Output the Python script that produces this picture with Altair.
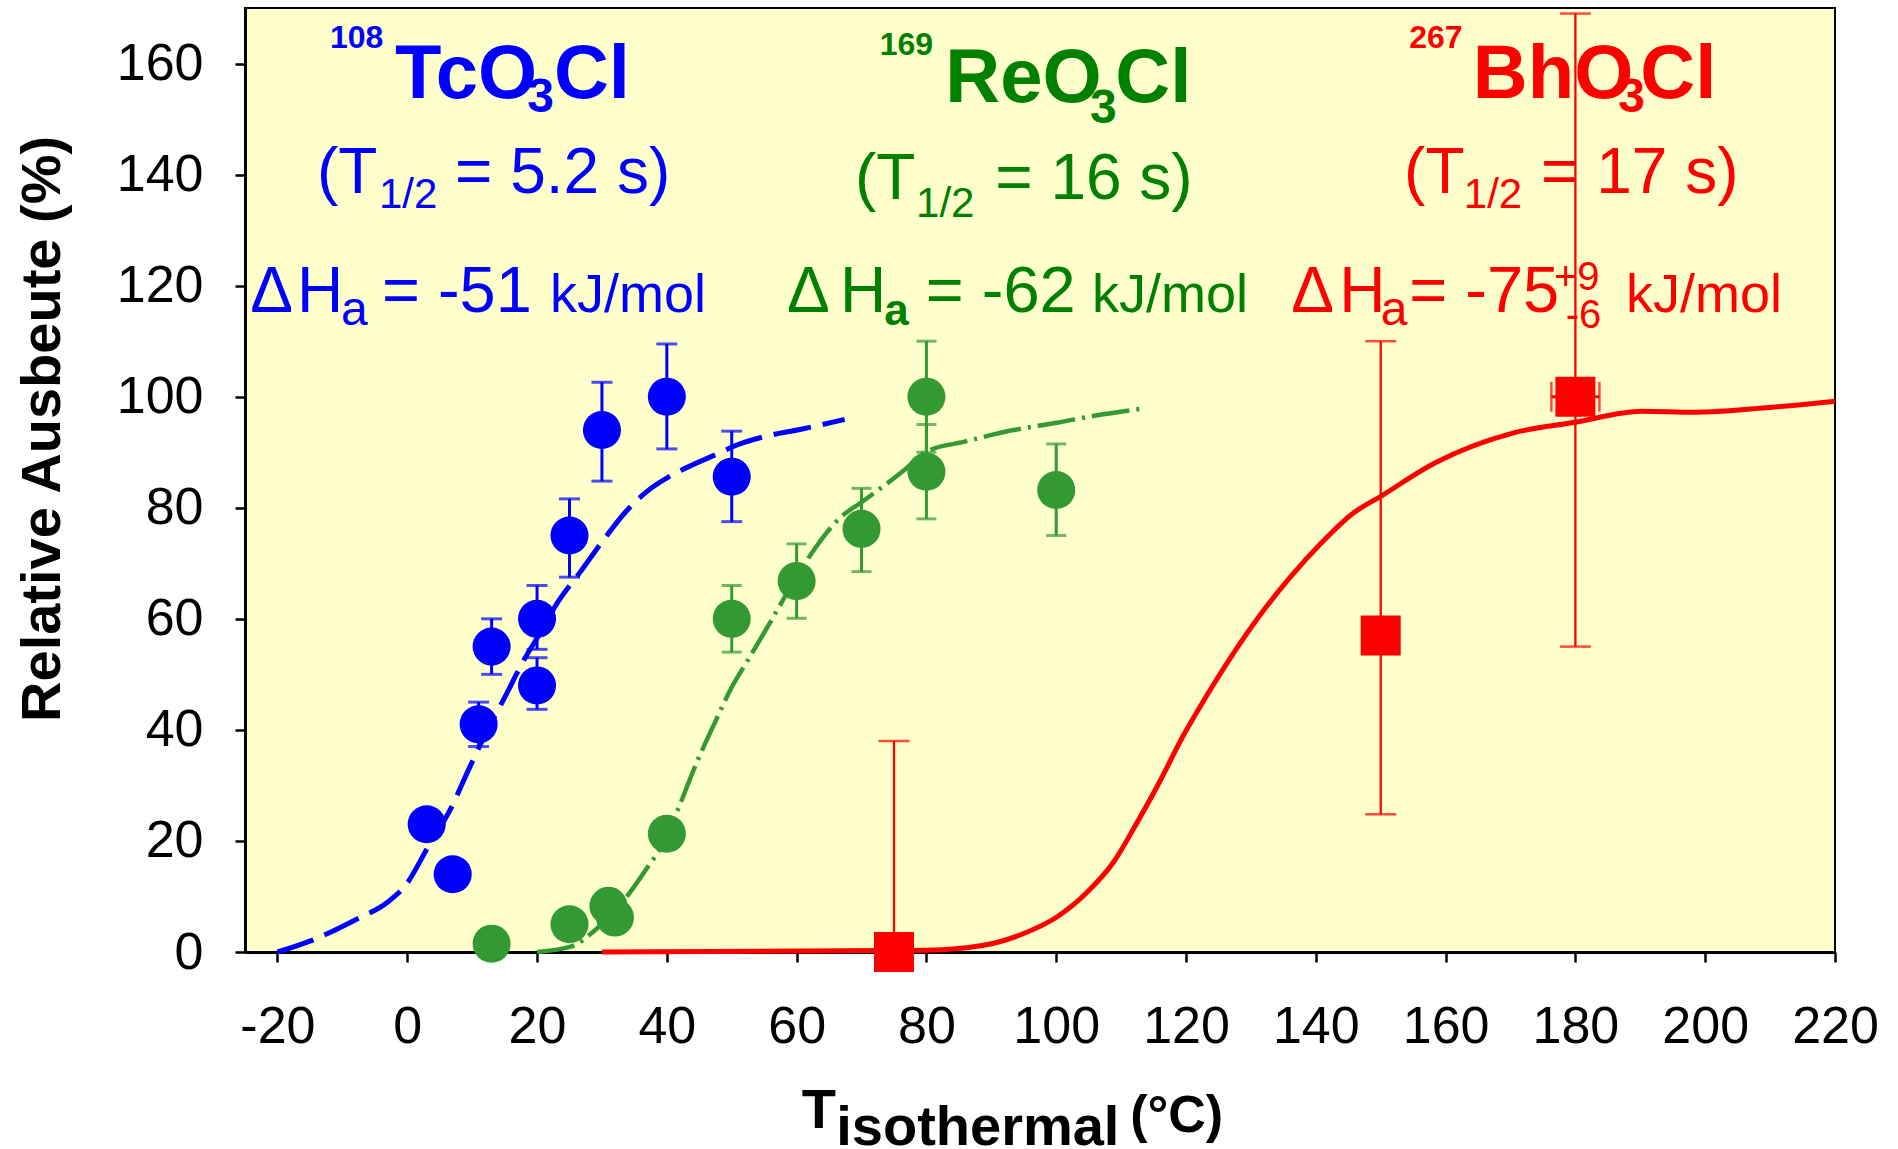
import altair as alt
import pandas as pd

# ---------------- data ----------------
# 108TcO3Cl (blue)
tc_temp = [3, 7, 11, 13, 20, 20, 25, 30, 40, 50]
tc_yield = [23, 14, 41, 55, 60, 48, 75, 94, 100, 85.6]
tc_err_lo = [None, None, 37, 50, 54.5, 43.7, 67.5, 84.8, 90.6, 77.5]
tc_err_hi = [None, None, 45, 60, 66, 53, 81.6, 102.6, 109.5, 93.8]

# 169ReO3Cl (green)
re_temp = [13, 25, 31, 32, 40, 50, 60, 70, 80, 80, 100]
re_yield = [1.5, 5, 8.3, 6.2, 21.3, 60, 66.8, 76.2, 100, 86.5, 83.2]
re_err_lo = [None, None, None, None, None, 54, 60.1, 68.5, 90, 78, 75]
re_err_hi = [None, None, None, None, None, 66, 73.5, 83.5, 110, 95, 91.5]

# 267BhO3Cl (red)
bh_temp = [75, 150, 180]
bh_yield = [0, 57, 100]
bh_err_lo = [0, 24.8, 55]
bh_err_hi = [38, 110, 169]
bh_xerr_lo = [None, None, 176.3]
bh_xerr_hi = [None, None, 183.7]

# model curves
tc_curve_t = [-20, -14.7, -7.8, -3.0, -0.2, 3.2, 6.7, 9.4, 12.2, 15.0, 17.7, 20.5,
              23.2, 26.7, 30.1, 33.6, 37.0, 40.5, 43.9, 47.4, 50.8, 55.0, 60.5, 67.4]
tc_curve_y = [0, 2.1, 5.9, 9.0, 12.1, 18.9, 25.8, 32.7, 39.6, 45.8, 52.0, 57.5,
              63.0, 68.5, 74.0, 79.2, 83.0, 85.7, 87.7, 89.5, 91.3, 92.8, 94.1, 95.9]
re_curve_t = [20, 25.3, 28.8, 32.9, 37.0, 39.8, 41.9, 44.6, 47.4, 50.1, 52.2, 55.7,
              59.1, 63.2, 66.7, 70.0, 76.5, 80.0, 85.9, 93.0, 100.1, 106.5, 113.6]
re_curve_y = [0, 1.0, 3.8, 8.6, 15.2, 20.3, 26.2, 34.1, 41.3, 47.9, 52.0, 58.9,
              65.8, 73.3, 78.2, 81.0, 86.7, 90.1, 91.9, 93.9, 95.3, 96.7, 97.9]
bh_curve_t = [30, 80, 88.8, 94.7, 100.1, 104.8, 108.9, 112.4, 116.0, 119.5, 123.1, 127.2,
              131.3, 136.0, 140.8, 145.5, 150.2, 158.4, 170.5, 180, 190.2, 198.5, 209.3, 220]
bh_curve_y = [0, 0.3, 1.2, 3.2, 6.3, 10.8, 16.3, 23.2, 30.8, 38.8, 46.0, 53.6,
              60.5, 67.4, 73.6, 78.8, 82.2, 88.1, 93.5, 95.4, 97.4, 97.2, 98.0, 99.2]

x_ticks = list(range(-20, 221, 20))
y_ticks = list(range(0, 161, 20))

BLUE, GREEN_PT, GREEN_TXT, RED = "#0000FF", "#339933", "#008000", "#FF0000"

# ---------------- annotations (label, T, yield, font size, colour, style) ----------------
ann = [
    ("108", -11.9, 162.8, 32, BLUE, "bold"),
    ("TcO", -1.9, 153.8, 76, BLUE, "bold"),
    ("3", 18.5, 151.3, 48, BLUE, "bold"),
    ("Cl", 22.6, 153.8, 76, BLUE, "bold"),
    ("(T", -13.9, 136.7, 64, BLUE, "reg"),
    ("1/2", -4.35, 134.0, 42, BLUE, "reg"),
    ("= 5.2 s)", 7.36, 136.7, 64, BLUE, "reg"),
    ("Δ", -24.2, 115.3, 64, BLUE, "reg"),
    ("H", -17.0, 115.3, 64, BLUE, "reg"),
    ("a", -10.2, 112.9, 48, BLUE, "reg"),
    ("= -51", -3.9, 115.3, 65, BLUE, "reg"),
    ("kJ/mol", 22.0, 115.3, 54, BLUE, "reg"),

    ("169", 72.8, 161.5, 32, GREEN_TXT, "bold"),
    ("ReO", 82.9, 153.1, 76, GREEN_TXT, "bold"),
    ("3", 105.2, 149.3, 48, GREEN_TXT, "bold"),
    ("Cl", 109.1, 153.1, 76, GREEN_TXT, "bold"),
    ("(T", 69.0, 135.6, 64, GREEN_TXT, "reg"),
    ("1/2", 78.4, 132.4, 42, GREEN_TXT, "reg"),
    ("= 16 s)", 90.6, 135.6, 64, GREEN_TXT, "reg"),
    ("Δ", 58.5, 115.3, 64, GREEN_TXT, "reg"),
    ("H", 66.7, 115.3, 64, GREEN_TXT, "reg"),
    ("a", 73.5, 112.9, 44, GREEN_TXT, "bold"),
    ("= -62", 79.9, 115.3, 65, GREEN_TXT, "reg"),
    ("kJ/mol", 105.5, 115.3, 54, GREEN_TXT, "reg"),

    ("267", 154.4, 162.8, 32, RED, "bold"),
    ("BhO", 164.2, 153.8, 76, RED, "bold"),
    ("3", 186.6, 151.3, 48, RED, "bold"),
    ("Cl", 190.0, 153.8, 76, RED, "bold"),
    ("(T", 153.6, 136.7, 64, RED, "reg"),
    ("1/2", 162.8, 134.0, 42, RED, "reg"),
    ("= 17 s)", 174.7, 136.7, 64, RED, "reg"),
    ("Δ", 136.2, 115.3, 64, RED, "reg"),
    ("H", 143.6, 115.3, 64, RED, "reg"),
    ("a", 150.0, 112.9, 48, RED, "reg"),
    ("= -75", 154.4, 115.3, 65, RED, "reg"),
    ("+9", 176.7, 119.2, 40, RED, "reg"),
    ("-6", 178.5, 112.4, 40, RED, "reg"),
    ("kJ/mol", 187.8, 115.3, 54, RED, "reg"),

    ("T", 60.8, -31.7, 56, "black", "bold"),
    ("isothermal", 66.1, -34.8, 56, "black", "bold"),
    ("(°C)", 111.4, -32.4, 52, "black", "bold"),
]
ann_df = pd.DataFrame(ann, columns=["label", "t", "v", "fs", "col", "style"])
ytitle_df = pd.DataFrame({"label": ["Relative  Ausbeute (%)"], "t": [-53.5], "v": [94.2]})

# ---------------- scales / axes ----------------
FONT = "Liberation Sans"
XS = alt.Scale(domain=[-25, 220], nice=False, zero=False)
YS = alt.Scale(domain=[0, 170], nice=False, zero=False)
XA = alt.Axis(values=x_ticks, title=None, grid=False, labelFont=FONT, labelFontSize=52,
              labelColor="black", labelPadding=80, labelBaseline="alphabetic",
              labelExpr="'' + datum.value",
              labelFlush=False, labelOverlap=False, tickSize=10, tickWidth=2.5,
              tickColor="black", domainColor="black", domainWidth=3)
YA = alt.Axis(values=y_ticks, title=None, grid=False, labelFont=FONT, labelFontSize=52,
              labelColor="black", labelPadding=32, labelOverlap=False, tickSize=10,
              labelExpr="'' + datum.value",
              tickWidth=2.5, tickColor="black", domainColor="black", domainWidth=3)


def X(f="t"):
    return alt.X(f"{f}:Q", scale=XS, axis=XA)


def Y(f="v"):
    return alt.Y(f"{f}:Q", scale=YS, axis=YA)


def pts(t, v, lo=None, hi=None):
    d = pd.DataFrame({"t": t, "v": v})
    if lo is not None:
        d["lo"] = lo
        d["hi"] = hi
    return d


layers = []

# curves
for t, v, col, dash, w in [
    (tc_curve_t, tc_curve_y, BLUE, [38, 12], 5),
    (re_curve_t, re_curve_y, GREEN_PT, [38, 7, 3, 7], 4.5),
    (bh_curve_t, bh_curve_y, RED, None, 5),
]:
    kw = dict(interpolate="monotone", color=col, strokeWidth=w)
    if dash:
        kw["strokeDash"] = dash
    layers.append(alt.Chart(pts(t, v)).mark_line(**kw).encode(x=X(), y=Y()))

# vertical error bars
for t, v, lo, hi, col, w, cap, th in [
    (tc_temp, tc_yield, tc_err_lo, tc_err_hi, BLUE, 3, 21, 3),
    (re_temp, re_yield, re_err_lo, re_err_hi, GREEN_PT, 3, 20, 3),
    (bh_temp, bh_yield, bh_err_lo, bh_err_hi, RED, 2.3, 31, 2.5),
]:
    d = pts(t, v, lo, hi).dropna()
    layers.append(alt.Chart(d).mark_rule(color=col, strokeWidth=w).encode(x=X(), y=Y("lo"), y2="hi:Q"))
    layers.append(alt.Chart(d).mark_tick(orient="horizontal", size=cap, thickness=th, color=col)
                  .encode(x=X(), y=Y("lo")))
    layers.append(alt.Chart(d).mark_tick(orient="horizontal", size=cap, thickness=th, color=col)
                  .encode(x=X(), y=Y("hi")))

# horizontal error bar (Bh at 180 °C)
dx = pd.DataFrame({"t": bh_temp, "v": bh_yield, "xlo": bh_xerr_lo, "xhi": bh_xerr_hi}).dropna()
layers.append(alt.Chart(dx).mark_rule(color=RED, strokeWidth=3).encode(x=X("xlo"), x2="xhi:Q", y=Y()))
layers.append(alt.Chart(dx).mark_tick(orient="vertical", size=30, thickness=2.5, color=RED)
              .encode(x=X("xlo"), y=Y()))
layers.append(alt.Chart(dx).mark_tick(orient="vertical", size=30, thickness=2.5, color=RED)
              .encode(x=X("xhi"), y=Y()))

# data points
layers.append(alt.Chart(pts(tc_temp, tc_yield)).mark_circle(size=1450, opacity=1, color=BLUE)
              .encode(x=X(), y=Y()))
layers.append(alt.Chart(pts(re_temp, re_yield)).mark_circle(size=1450, opacity=1, color=GREEN_PT)
              .encode(x=X(), y=Y()))
layers.append(alt.Chart(pts(bh_temp, bh_yield)).mark_square(size=1600, opacity=1, color=RED)
              .encode(x=X(), y=Y()))

# text annotations
styles = {
    "bold": dict(font=FONT, fontWeight="bold"),
    "reg": dict(font=FONT, fontWeight="normal"),
}
for st, kw in styles.items():
    d = ann_df[ann_df["style"] == st]
    layers.append(
        alt.Chart(d).mark_text(align="left", baseline="alphabetic", **kw).encode(
            x=X(), y=Y(), text="label:N",
            color=alt.Color("col:N", scale=None),
            size=alt.Size("fs:Q", scale=None),
        )
    )

layers.append(
    alt.Chart(ytitle_df).mark_text(align="center", baseline="alphabetic", angle=270,
                                   font=FONT, fontWeight="bold", fontSize=56, color="black")
    .encode(x=X(), y=Y(), text="label:N")
)

chart = (
    alt.layer(*layers)
    .properties(width=1590, height=944,
                padding={"left": 245, "top": 8, "right": 63, "bottom": 197},
                autosize=alt.AutoSizeParams(type="none"),
                background="white")
    .configure_view(fill="#FFFFCC", stroke="black", strokeWidth=2)
)

chart.save("out.html", embed_options={"renderer": "svg", "actions": False})
